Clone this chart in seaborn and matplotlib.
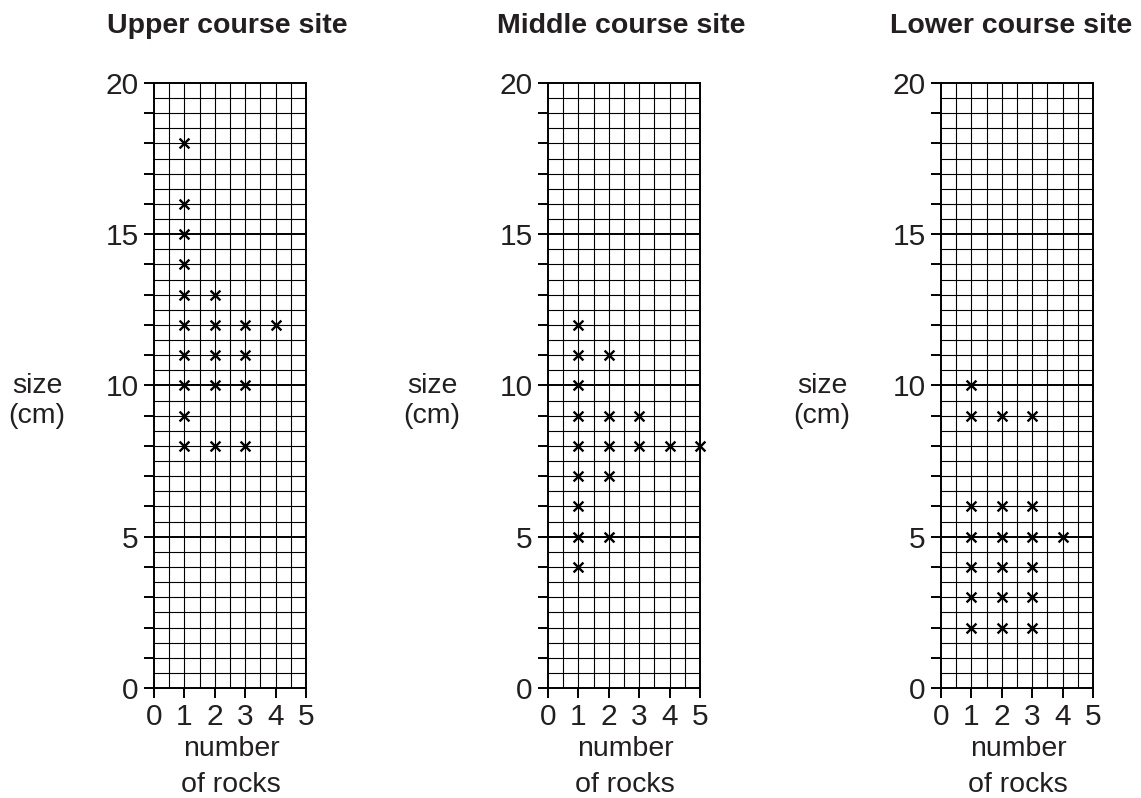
import numpy as np
import pandas as pd
import seaborn as sns
import matplotlib.pyplot as plt

# rock counts (x) against size in cm (y) for each site
upper_rocks = [1, 1, 1, 1, 1, 1, 1, 1, 1, 1, 2, 2, 2, 2, 2, 3, 3, 3, 3, 4]
upper_size = [18, 16, 15, 14, 13, 12, 11, 10, 9, 8, 13, 12, 11, 10, 8, 12, 11, 10, 8, 12]

middle_rocks = [1, 1, 1, 1, 1, 1, 1, 1, 1, 2, 2, 2, 2, 2, 3, 3, 4, 5]
middle_size = [12, 11, 10, 9, 8, 7, 6, 5, 4, 11, 9, 8, 7, 5, 9, 8, 8, 8]

lower_rocks = [1, 1, 1, 1, 1, 1, 1, 2, 2, 2, 2, 2, 2, 3, 3, 3, 3, 3, 3, 4]
lower_size = [10, 9, 6, 5, 4, 3, 2, 9, 6, 5, 4, 3, 2, 9, 6, 5, 4, 3, 2, 5]

titles = ["Upper course site", "Middle course site", "Lower course site"]
x_ticks = [0, 1, 2, 3, 4, 5]
y_labels = [0, 5, 10, 15, 20]

sites = [
    pd.DataFrame({"rocks": upper_rocks, "size": upper_size}),
    pd.DataFrame({"rocks": middle_rocks, "size": middle_size}),
    pd.DataFrame({"rocks": lower_rocks, "size": lower_size}),
]

sns.set_style("white")
plt.rcParams["font.family"] = ["Liberation Sans", "DejaVu Sans"]

fig = plt.figure(figsize=(11.41, 7.98), dpi=100)
lefts = [154, 548, 941]
title_x = [227, 621, 1011]
label_x = [37, 432, 822]

for i, df in enumerate(sites):
    ax = fig.add_axes([lefts[i] / 1141, 1 - 688 / 798, 152 / 1141, 605 / 798])
    ax.set_xlim(0, 5)
    ax.set_ylim(0, 20)

    for gx in np.arange(0.5, 5, 0.5):
        ax.axvline(gx, color="black", lw=0.8, zorder=1)
    for gy in np.arange(0.5, 20, 0.5):
        ax.axhline(gy, color="black", lw=1.4 if gy % 5 == 0 else 0.8, zorder=1)

    sns.scatterplot(data=df, x="rocks", y="size", marker="x", color="black",
                    s=50, linewidth=1.7, ax=ax, zorder=3, clip_on=False)

    for sp in ax.spines.values():
        sp.set_color("black")
        sp.set_linewidth(1.4)

    ax.set_xticks(x_ticks)
    ax.set_xticklabels([str(t) for t in x_ticks])
    ax.set_yticks(np.arange(0, 21, 1))
    ax.set_yticklabels([str(v) if v in y_labels else "" for v in range(21)])
    ax.tick_params(axis="both", direction="out", length=7, width=1.4,
                   color="black", labelsize=21.5, labelcolor="#231f20", pad=4,
                   left=True, bottom=True)
    ax.set_xlabel("")
    ax.set_ylabel("")

    fig.text(title_x[i] / 1141, 1 - 26 / 798, titles[i], ha="center", va="center",
             fontsize=20.5, fontweight="bold", color="#231f20")
    fig.text(label_x[i] / 1141, 1 - 401 / 798, "size\n(cm)", ha="center", va="center",
             fontsize=20.5, color="#231f20", linespacing=1.2)
    fig.text((lefts[i] + 77) / 1141, 1 - 767 / 798, "number\nof rocks", ha="center",
             va="center", fontsize=20.5, color="#231f20", linespacing=1.45)

fig.savefig("out.png", dpi=100)
